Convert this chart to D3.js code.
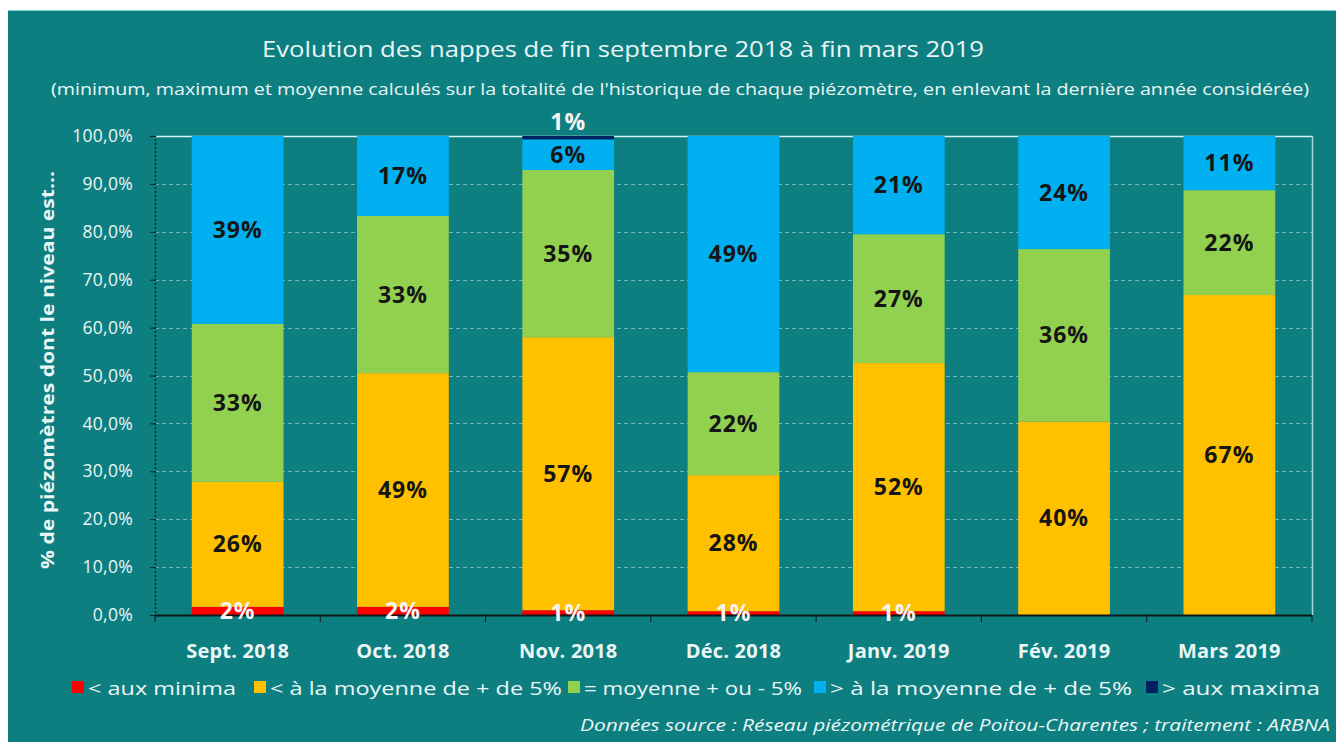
<!DOCTYPE html>
<html><head><meta charset="utf-8">
<script src="https://cdn.jsdelivr.net/npm/d3@7"></script>
<style>
html,body{margin:0;padding:0;background:#fff;}
svg{display:block;}
</style></head>
<body>
<svg id="chart" width="1336" height="742"></svg>
<script>
const categories = ["Sept. 2018","Oct. 2018","Nov. 2018","Déc. 2018","Janv. 2019","Fév. 2019","Mars 2019"];
const seriesNames = ["< aux minima","< à la moyenne de + de 5%","= moyenne + ou - 5%","> à la moyenne de + de 5%","> aux maxima"];
const seriesColors = ["#ff0000","#ffc000","#92d050","#00b0f0","#002060"];
const auxMinima   = [1.7, 1.7, 1.0, 0.8, 0.8, 0.0, 0.0];
const sousMoyenne = [26.1, 48.8, 57.0, 28.4, 51.8, 40.4, 66.8];
const moyenne     = [33.0, 32.8, 34.9, 21.5, 26.9, 36.0, 21.9];
const surMoyenne  = [39.2, 16.7, 6.4, 49.3, 20.5, 23.6, 11.3];
const auxMaxima   = [0.0, 0.0, 0.7, 0.0, 0.0, 0.0, 0.0];
const labelMinima = ["2%","2%","1%","1%","1%","",""];
const labelMaxima = ["","","1%","","","",""];
const yTicks = [0,10,20,30,40,50,60,70,80,90,100];

(function(){
const series = [auxMinima, sousMoyenne, moyenne, surMoyenne, auxMaxima];
const rows = categories.map((c,i)=>{
  const r = {cat:c};
  series.forEach((s,k)=>r["s"+k]=s[i]);
  return r;
});
const keys = series.map((s,k)=>"s"+k);
const stacked = d3.stack().keys(keys)(rows);

const svg = d3.select("#chart");
const W = 1336, H = 742;
const bg = "#0e7f80";
svg.append("rect").attr("x",0).attr("y",0).attr("width",W).attr("height",H).attr("fill","#fff");
svg.append("rect").attr("x",8).attr("y",10).attr("width",W-8).attr("height",H-10).attr("fill",bg);
svg.append("line").attr("x1",8).attr("x2",W).attr("y1",10.5).attr("y2",10.5).attr("stroke","#7fd6d6").attr("stroke-width",1);

const pL = 155, pR = 1312, pT = 136, pB = 615;
const x = d3.scaleBand().domain(categories).range([pL,pR]).paddingInner(0.445).paddingOuter(0.2225);
const y = d3.scaleLinear().domain([0,100]).range([pB,pT]);

const textCol = "#eaf6f6";
const font = "'Open Sans', 'Noto Sans', sans-serif";

// Title
svg.append("text").attr("x",623).attr("y",57).attr("text-anchor","middle")
  .attr("font-family",font).attr("font-size",21).attr("fill",textCol)
  .attr("textLength",722).attr("lengthAdjust","spacingAndGlyphs")
  .text("Evolution des nappes de fin septembre 2018 à fin mars 2019");
svg.append("text").attr("x",680).attr("y",95).attr("text-anchor","middle")
  .attr("font-family",font).attr("font-size",15.5).attr("fill",textCol)
  .attr("textLength",1258).attr("lengthAdjust","spacingAndGlyphs")
  .text("(minimum, maximum et moyenne  calculés sur la totalité de l'historique de chaque piézomètre, en enlevant la dernière année considérée)");

// gridlines
const grid = svg.append("g");
grid.selectAll("line").data(yTicks.filter(t=>t>0 && t<100)).join("line")
  .attr("x1",pL).attr("x2",pR).attr("y1",d=>Math.round(y(d))+0.5).attr("y2",d=>Math.round(y(d))+0.5)
  .attr("stroke","#6fb8b8").attr("stroke-width",1).attr("stroke-dasharray","4,3");
svg.append("line").attr("x1",pL).attr("x2",pR).attr("y1",y(100)+0.5).attr("y2",y(100)+0.5)
  .attr("stroke","#d8f0f0").attr("stroke-width",1.5);
svg.append("line").attr("x1",pR+0.5).attr("x2",pR+0.5).attr("y1",y(100)).attr("y2",y(0))
  .attr("stroke","#9fd8d8").attr("stroke-width",1.5);

// bars
const gBars = svg.append("g");
stacked.forEach((layer,k)=>{
  gBars.selectAll(null).data(layer).join("rect")
    .attr("x",(d,i)=>x(categories[i]))
    .attr("width",x.bandwidth())
    .attr("y",d=>y(d[1]))
    .attr("height",d=>Math.max(0,y(d[0])-y(d[1])))
    .attr("fill",seriesColors[k]);
});

// Y axis
const yAxis = d3.axisLeft(y).tickValues(yTicks).tickFormat(d=>d3.format(".1f")(d).replace(".",",")+"%").tickSize(5).tickPadding(17);
const gy = svg.append("g").attr("transform",`translate(${pL},0)`).call(yAxis);
gy.select(".domain").attr("stroke","#0a2a2a").attr("stroke-dasharray","2,2").attr("stroke-width",1.5);
gy.selectAll(".tick line").attr("stroke","#0a2a2a");
gy.selectAll("text").attr("font-family",font).attr("font-size",17.5).attr("fill",textCol).attr("letter-spacing",0.3);

// X axis
const gx = svg.append("g").attr("transform",`translate(0,${pB})`);
gx.append("line").attr("x1",pL).attr("x2",pR).attr("y1",0.5).attr("y2",0.5).attr("stroke","#0a1a1a").attr("stroke-width",2);
const bounds = d3.range(categories.length+1).map(i=>pL+i*(pR-pL)/categories.length);
gx.selectAll(".tk").data(bounds).join("line").attr("class","tk")
  .attr("x1",d=>d).attr("x2",d=>d).attr("y1",0).attr("y2",7).attr("stroke","#0a1a1a").attr("stroke-width",1);
gx.selectAll(".lbl").data(categories).join("text").attr("class","lbl")
  .attr("x",d=>x(d)+x.bandwidth()/2).attr("y",43).attr("text-anchor","middle")
  .attr("font-family",font).attr("font-weight","bold").attr("font-size",20).attr("fill",textCol)
  .attr("letter-spacing",0.2)
  .text(d=>d);

// Y title
svg.append("text").attr("transform","translate(54,370) rotate(-90)").attr("text-anchor","middle")
  .attr("font-family",font).attr("font-weight","bold").attr("font-size",17).attr("fill",textCol)
  .attr("textLength",398).attr("lengthAdjust","spacingAndGlyphs")
  .text("% de piézomètres dont le niveau est...");

// segment labels (middle series)
const fmt = d3.format(".0f");
const lblSize = 23;
[1,2,3].forEach(k=>{
  svg.append("g").selectAll("text").data(stacked[k].filter(d=>d[1]-d[0]>0)).join("text")
    .attr("x",d=>x(d.data.cat)+x.bandwidth()/2)
    .attr("y",d=>y((d[0]+d[1])/2)+8)
    .attr("text-anchor","middle")
    .attr("font-family",font).attr("font-weight","bold").attr("font-size",lblSize).attr("fill","#151515")
    .attr("letter-spacing",1)
    .text(d=>fmt(d[1]-d[0])+"%");
});
// minima labels
svg.append("g").selectAll("text").data(categories).join("text")
  .attr("x",d=>x(d)+x.bandwidth()/2).attr("y",(d,i)=>y(auxMinima[i]/2)+8)
  .attr("text-anchor","middle")
  .attr("font-family",font).attr("font-weight","bold").attr("font-size",lblSize).attr("fill","#f4f4f4")
  .attr("letter-spacing",1)
  .text((d,i)=>labelMinima[i]);
// maxima labels
svg.append("g").selectAll("text").data(categories).join("text")
  .attr("x",d=>x(d)+x.bandwidth()/2).attr("y",y(100)-6)
  .attr("text-anchor","middle")
  .attr("font-family",font).attr("font-weight","bold").attr("font-size",lblSize).attr("fill","#f4f4f4")
  .attr("letter-spacing",1)
  .text((d,i)=>labelMaxima[i]);

// Legend
const legendX = [72, 254, 568, 814, 1146];
const legendLen = [148, 292, 218, 302, 158];
const lg = svg.append("g");
seriesNames.forEach((n,k)=>{
  lg.append("rect").attr("x",legendX[k]).attr("y",681).attr("width",12).attr("height",12).attr("fill",seriesColors[k]);
  lg.append("text").attr("x",legendX[k]+16).attr("y",695)
    .attr("font-family",font).attr("font-size",19).attr("fill",textCol)
    .attr("textLength",legendLen[k]).attr("lengthAdjust","spacingAndGlyphs").text(n);
});

// footnote
svg.append("text").attr("x",1330).attr("y",731).attr("text-anchor","end")
  .attr("font-family",font).attr("font-style","italic").attr("font-size",15.5).attr("fill",textCol)
  .attr("textLength",750).attr("lengthAdjust","spacingAndGlyphs")
  .text("Données source : Réseau piézométrique de Poitou-Charentes ; traitement :  ARBNA");
})();
</script>
</body></html>
